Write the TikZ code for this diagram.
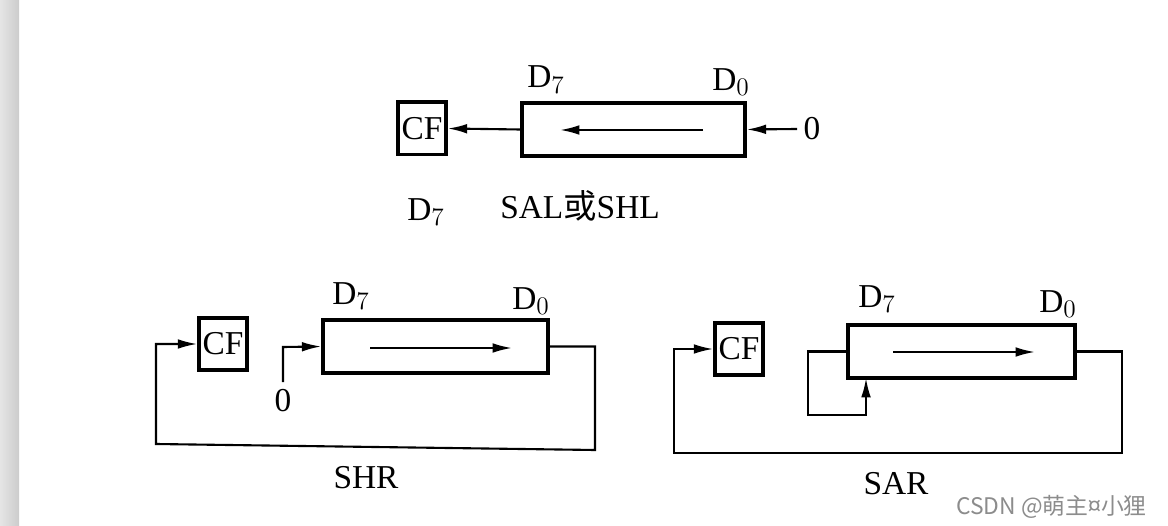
\documentclass[tikz,border=0pt]{standalone}
\usepackage{fontspec}
\setmainfont{Liberation Serif}
\newfontfamily\cjk{Noto Sans CJK SC}
\usetikzlibrary{arrows.meta}
\begin{document}
\begin{tikzpicture}[x=0.02cm,y=-0.02cm,
  cfbox/.style={draw,line width=2pt,inner sep=0pt,minimum width=0.96cm,minimum height=1.05cm,font=\fontsize{19}{19}\selectfont},
  regbox/.style={draw,line width=2pt,inner sep=0pt,minimum height=1.06cm},
  wire/.style={line width=1.2pt},
  arr/.style={wire,-{Latex[length=11pt,width=5.5pt]}},
  lab/.style={font=\fontsize{19}{19}\selectfont,inner sep=0pt}]
\useasboundingbox (0,0) rectangle (1168,526);
\shade[left color=black!10,right color=black!20] (0,0) rectangle (19,526);
% ---------- SAL / SHL ----------
\node[cfbox] (cf1) at (422,128.5) {CF};
\node[regbox,minimum width=4.46cm] (r1) at (633.5,129.5) {};
\node[lab] (d71) at (546,80) {D$_7$};
\node[lab] (d01) at (731,82) {D$_0$};
\coordinate (a1s) at (703,130);
\coordinate (a1e) at (560,130);
\draw[arr] (a1s) -- (a1e);
\draw[arr] (r1.west) -- (cf1.east);
\node[lab] (z1) at (812,129) {0};
\coordinate (z1w) at (797,129);
\draw[arr] (z1w) -- (r1.east);
\node[lab] (d7b) at (426,212) {D$_7$};
\node[lab] (t1) at (580,206) {SAL{\cjk 或}SHL};
% ---------- SHR ----------
\node[cfbox] (cf2) at (223,344) {CF};
\node[regbox,minimum width=4.5cm] (r2) at (435.5,346.5) {};
\node[lab] (d72) at (351,296) {D$_7$};
\node[lab] (d02) at (531,301) {D$_0$};
\draw[arr] (370,348) -- (512,348);
\node[lab] (z2) at (283,401) {0};
\coordinate (z2n) at (283,382);
\draw[arr] (z2n) -- (283,347) -- (r2.west);
\draw[arr] (r2.east) -- (595,346.5) -- (595,450) -- (156,444) -- (156,344) -- (cf2.west);
\node[lab] (t2) at (366,478) {SHR};
% ---------- SAR ----------
\node[cfbox] (cf3) at (739,349) {CF};
\node[regbox,minimum width=4.54cm] (r3) at (961.5,351.5) {};
\node[lab] (d73) at (877,299) {D$_7$};
\node[lab] (d03) at (1058,304) {D$_0$};
\draw[arr] (893,352) -- (1035,352);
\coordinate (r3s) at (866,378);
\draw[arr] (r3.west) -- (808,351.5) -- (808,415) -- (866,415) -- (r3s);
\draw[arr] (r3.east) -- (1122,351.5) -- (1122,453) -- (674,453) -- (674,349) -- (cf3.west);
\node[lab] (t3) at (896,484) {SAR};
% watermark
\node[font=\cjk\fontsize{13}{13}\selectfont,text=black!45,anchor=east] (wm) at (1153,507) {CSDN @萌主¤小狸};
\end{tikzpicture}
\end{document}
